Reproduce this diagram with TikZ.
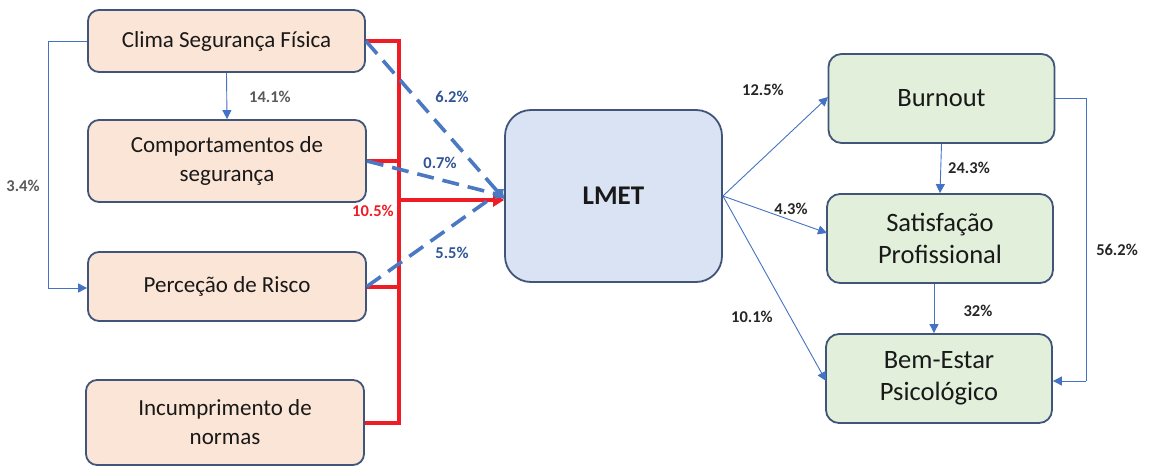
\documentclass[tikz,border=0pt]{standalone}
\usepackage{fontspec}
\setmainfont{Carlito}
\usetikzlibrary{arrows.meta}
\definecolor{boxline}{HTML}{41557A}
\definecolor{peach}{HTML}{FBE5D6}
\definecolor{paleblue}{HTML}{DAE3F3}
\definecolor{palegreen}{HTML}{E2EFDA}
\definecolor{linkblue}{HTML}{4472C4}
\definecolor{dashblue}{HTML}{4A78C2}
\definecolor{lblblue}{HTML}{2F5597}
\definecolor{lblgray}{HTML}{595959}
\definecolor{busred}{HTML}{EE1C25}
\tikzset{
  factor/.style={draw=boxline, line width=1.8pt, fill=peach, rounded corners=11pt,
    align=center, font=\fontsize{23}{29}\selectfont, text=black!90},
  outcome/.style={draw=boxline, line width=1.8pt, fill=palegreen, rounded corners=13pt,
    align=center, font=\fontsize{26.5}{32}\selectfont, text=black!90,
    minimum width=226pt, minimum height=89pt},
  mediator/.style={draw=boxline, line width=1.8pt, fill=paleblue, rounded corners=26pt,
    font=\bfseries\fontsize{27}{31}\selectfont, text=black!90,
    minimum width=217pt, minimum height=172pt},
  thin/.style={draw=linkblue, line width=0.9pt, -{Triangle[width=9pt,length=9pt]}},
  plain/.style={draw=linkblue, line width=0.9pt},
  dashlink/.style={draw=dashblue, line width=3.6pt, dash pattern=on 17pt off 9pt,
    -{Triangle[width=10pt,length=8pt]}},
  bus/.style={draw=busred, line width=4pt},
  pct/.style={font=\bfseries\fontsize{16.5}{19}\selectfont},
}
\begin{document}
\begin{tikzpicture}[x=1pt,y=-1pt]
\useasboundingbox (0,0) rectangle (1149,466);

% predictor boxes
\node[factor, minimum width=277pt, minimum height=62pt] (clima) at (226.5,41) {Clima Segurança Física};
\node[factor, minimum width=278pt, minimum height=82pt] (comp) at (227,161) {Comportamentos de\\segurança};
\node[factor, minimum width=278pt, minimum height=69pt] (perc) at (227,286.5) {Perceção de Risco};
\node[factor, minimum width=278pt, minimum height=85pt] (incum) at (225,422.5) {Incumprimento de\\normas};

% mediator
\node[mediator] (lmet) at (613.5,196) {LMET};

% outcomes
\node[outcome] (burn) at (941.5,98.5) {Burnout};
\node[outcome] (sat) at (940,238.5) {Satisfação\\Profissional};
\node[outcome] (bem) at (939,378.5) {Bem-Estar\\Psicológico};

% links among predictors
\coordinate (la) at (48,41);
\coordinate (lb) at (48,288);
\draw[plain] (clima.west) -- (la) -- (lb);
\draw[thin] (lb) -- (lb -| perc.west);
\draw[thin] (clima.south) -- (comp.north);

% red bus from all predictors
\coordinate (bt) at (399,41);
\coordinate (bb) at (399,422.5);
\coordinate (bj) at (399,200);
\draw[bus] (clima.east) -- (bt) -- (bb) -- (incum.east);
\draw[bus] (comp.east) -- (comp.east -| bt);
\draw[bus] (perc.east) -- (perc.east -| bt);
\draw[bus, -{Triangle[width=13pt,length=11pt]}] (bj) -- (bj -| lmet.west);

% dashed direct links into the mediator
\coordinate (d1) at ([yshift=-3pt]lmet.west);
\coordinate (d3) at ([yshift=7pt]lmet.west);
\draw[dashlink] (clima.east) -- (d1);
\draw[dashlink] (comp.east) -- (lmet.west);
\draw[dashlink] (perc.east) -- (d3);

% mediator to outcomes
\coordinate (o1) at (828,97);
\coordinate (o2) at (827,233);
\coordinate (o3) at (826,381);
\draw[thin] (lmet.east) -- (o1);
\draw[thin] (lmet.east) -- (o2);
\draw[thin] (lmet.east) -- (o3);
\draw[thin] (burn.south) -- (sat.north);
\draw[thin] ([xshift=-6pt]sat.south) -- ([xshift=-5pt]bem.north);
\coordinate (ra) at (1086,98.5);
\coordinate (rb) at (1086,381);
\draw[plain] (burn.east) -- (ra) -- (rb);
\draw[thin] (rb) -- (bem.east |- rb);

% coefficients
\node[pct, text=lblgray] (p34) at (23,186) {3.4\%};
\node[pct, text=lblgray] (p141) at (270,97) {14.1\%};
\node[pct, text=lblblue] (p62) at (452,97) {6.2\%};
\node[pct, text=lblblue] (p07) at (440,163) {0.7\%};
\node[pct, text=busred] (p105) at (373,211) {10.5\%};
\node[pct, text=lblblue] (p55) at (452,253) {5.5\%};
\node[pct, text=black!85] (p125) at (763,90) {12.5\%};
\node[pct, text=black!85] (p43) at (791,209) {4.3\%};
\node[pct, text=black!85] (p101) at (752,317) {10.1\%};
\node[pct, text=black!85] (p243) at (969,168) {24.3\%};
\node[pct, text=black!85] (p32) at (978,311) {32\%};
\node[pct, text=black!85] (p562) at (1117,250) {56.2\%};
\end{tikzpicture}
\end{document}
